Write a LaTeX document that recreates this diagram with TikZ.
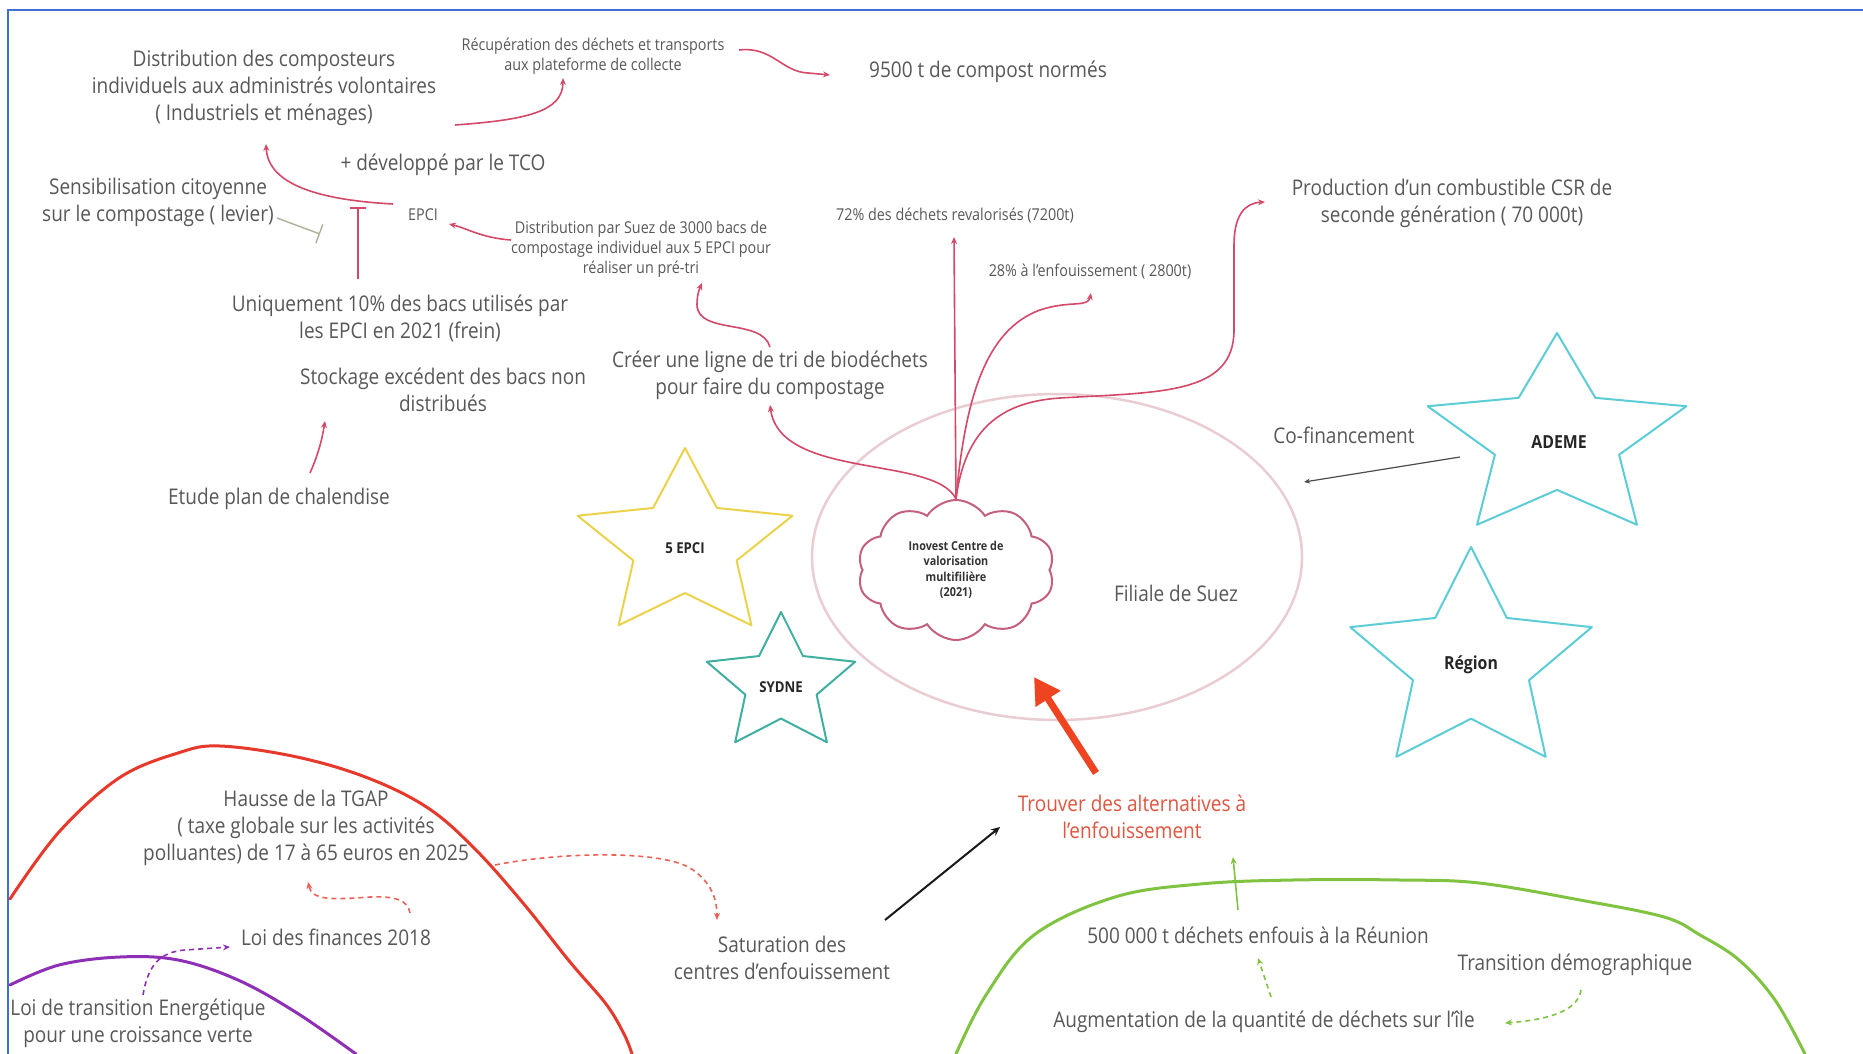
\documentclass[tikz,border=0pt]{standalone}
\usepackage{fontspec}
\setmainfont{Open Sans}[FakeStretch=0.88]
\usetikzlibrary{shapes.geometric,shapes.symbols,arrows.meta,calc}
\definecolor{txtgray}{HTML}{585858}
\definecolor{connpink}{HTML}{D44868}
\definecolor{borderblue}{HTML}{3D6FD4}
\definecolor{suezpink}{HTML}{E9CDD3}
\definecolor{cloudc}{HTML}{C4607E}
\definecolor{ademec}{HTML}{5CCCD6}
\definecolor{sydnec}{HTML}{3FB0A0}
\definecolor{epcic}{HTML}{ECD24A}
\definecolor{redc}{HTML}{E6392B}
\definecolor{purplec}{HTML}{8E2FB5}
\definecolor{greenc}{HTML}{7FC341}
\definecolor{trouverc}{HTML}{E0553F}
\definecolor{bigred}{HTML}{EE4422}
\definecolor{levierc}{HTML}{A8B498}
\newcommand\starpoly[5]{\draw[#1] plot[samples at={0,...,9}, variable=\k] ({#2+#4*(0.74+0.26*cos(180*\k))*cos(90+36*\k)}, {#3-#5*(0.74+0.26*cos(180*\k))*sin(90+36*\k)}) -- cycle;}
\begin{document}
\begin{tikzpicture}[x=1pt,y=-1pt,
  txt/.style={font=\fontsize{21.6}{27}\selectfont, text=txtgray, align=center, inner sep=0pt},
  smalltxt/.style={font=\fontsize{16.3}{20}\selectfont, text=txtgray, align=center, inner sep=0pt},
  starlbl/.style={font=\bfseries\fontsize{18}{20}\selectfont, text=black!85, inner sep=0pt},
  starlbls/.style={font=\bfseries\fontsize{15}{18}\selectfont, text=black!85, inner sep=0pt},
  conn/.style={draw=connpink, line width=1.6pt, -{Stealth[length=7pt,width=6pt]}},
  dconn/.style={line width=1.6pt, dash pattern=on 5pt off 4pt, -{Stealth[length=7pt,width=6pt]}},
  startline/.style={line width=2pt, line join=round},
  bigcurve/.style={line width=3pt, line cap=round}
]
\useasboundingbox (0,0) rectangle (1863,1054);
\fill[white] (0,0) rectangle (1863,1054);
\draw[borderblue, line width=2.5pt] (8,1054) -- (8,10) -- (1863,10);

% big curves
\draw[bigcurve, redc] plot[smooth, tension=0.6] coordinates {(10,899) (59,832) (119,778) (178,753) (220,746) (297,757) (368,778) (428,808) (475,849) (523,903) (570,962) (606,1004) (624,1034) (632,1054)};
\draw[bigcurve, purplec] plot[smooth, tension=0.6] coordinates {(10,985) (59,965) (120,957) (178,960) (238,980) (297,1013) (356,1054)};
\draw[bigcurve, greenc] plot[smooth, tension=0.6] coordinates {(956,1054) (986,995) (1034,935) (1115,897) (1200,884) (1293,880) (1400,880) (1479,883) (1580,900) (1664,917) (1700,935) (1739,960) (1775,1000) (1805,1054)};

% ellipse and cloud
\node[ellipse, draw=suezpink, line width=2.5pt, minimum width=490pt, minimum height=326pt, inner sep=0pt] (suez) at (1057,557) {};
\node[txt] (suezlbl) at (1176,593) {Filiale de Suez};
\node[cloud, cloud puffs=10, cloud puff arc=115, aspect=1.4, draw=cloudc, line width=2pt, minimum width=197pt, minimum height=140pt, inner sep=0pt, align=center, font=\bfseries\fontsize{12.3}{15.5}\selectfont, text=black!80] (cloud) at (956,570) {Inovest Centre de\\valorisation\\multifilière\\(2021)};

% stars
\starpoly{ademec, startline}{1557}{439}{136}{106}
\starpoly{ademec, startline}{1471}{663}{127}{116}
\starpoly{epcic, startline}{685}{546}{113}{98}
\starpoly{sydnec, startline}{781}{684}{78}{72}
\node[starlbl] (ademe) at (1559,442) {ADEME};
\node[starlbl] (region) at (1471,665) {Région};
\node[starlbls] (epci5) at (685,548) {5 EPCI};
\node[starlbls] (sydne) at (781,687) {SYDNE};

% texts
\node[txt] (distc) at (264,88) {Distribution des composteurs\\individuels aux administrés volontaires\\( Industriels et ménages)};
\node[smalltxt] (recup) at (593,56) {Récupération des déchets et transports\\aux plateforme de collecte};
\node[txt] (compost) at (988,72) {9500 t de compost normés};
\node[txt] (tco) at (443,165) {+ développé par le TCO};
\node[txt] (sensib) at (158,202) {Sensibilisation citoyenne\\sur le compostage ( levier)};
\node[smalltxt] (epci) at (423,215) {EPCI};
\node[smalltxt] (distsuez) at (641,249) {Distribution par Suez de 3000 bacs de\\compostage individuel aux 5 EPCI pour\\réaliser un pré-tri};
\node[smalltxt] (p72) at (955,216) {72\% des déchets revalorisés (7200t)};
\node[smalltxt] (p28) at (1090,272) {28\% à l'enfouissement ( 2800t)};
\node[txt] (csr) at (1452,203) {Production d'un combustible CSR de\\seconde génération ( 70 000t)};
\node[txt] (uniq) at (400,318) {Uniquement 10\% des bacs utilisés par\\les EPCI en 2021 (frein)};
\node[txt] (stock) at (443,390) {Stockage excédent des bacs non\\distribués};
\node[txt] (creer) at (770,375) {Créer une ligne de tri de biodéchets\\pour faire du compostage};
\node[txt] (etude) at (279,499) {Etude plan de chalendise};
\node[txt] (cofin) at (1344,435) {Co-financement};
\node[txt, text=trouverc] (trouver) at (1132,817) {Trouver des alternatives à\\l'enfouissement};
\node[txt] (tgap) at (306,828) {Hausse de la TGAP\\( taxe globale sur les activités\\polluantes) de 17 à 65 euros en 2025};
\node[txt] (loifin) at (336,937) {Loi des finances 2018};
\node[txt] (loite) at (138,1023) {Loi de transition Energétique\\pour une croissance verte};
\node[txt] (satur) at (782,958) {Saturation des\\centres d'enfouissement};
\node[txt] (t500) at (1258,935) {500 000 t déchets enfouis à la Réunion};
\node[txt] (transdem) at (1575,965) {Transition démographique};
\node[txt] (augm) at (1264,1022) {Augmentation de la quantité de déchets sur l'île};

\coordinate (bar1) at (358,207);
\coordinate (bar2) at (320,234);

% connectors
\draw[conn] ($(recup)+(146,-6)$) .. controls (772,46) and (782,72) .. (808,73) -- ($(compost)+(-158,3)$);
\draw[conn] ($(distc)+(191,37)$) .. controls (525,120) and (563,112) .. ($(recup)+(-30,22)$);
\draw[conn] ($(epci)+(-30,-11)$) .. controls (320,200) and (268,185) .. ($(distc)+(2,56)$);
\draw[draw=connpink, line width=1.6pt, -{Bar[width=16pt]}] ($(uniq)+(-42,-39)$) -- (bar1);
\draw[draw=levierc, line width=1.4pt, -{Bar[width=20pt]}] ($(sensib)+(119,16)$) -- (bar2);
\draw[conn] ($(distsuez)+(-130,-9)$) .. controls (482,238) and (466,228) .. ($(epci)+(26,9)$);
\draw[conn] ($(creer)+(0,-28)$) .. controls (762,318) and (698,335) .. (697,305) .. controls (697,295) and (699,290) .. ($(distsuez)+(61,34)$);
\draw[conn] (cloud.north) .. controls (935,455) and (780,480) .. ($(creer)+(0,30)$);
\draw[conn] (cloud.north) -- ($(p72)+(-1,21)$);
\draw[conn] (cloud.north) .. controls (965,400) and (985,330) .. (1040,310) .. controls (1070,300) and (1088,308) .. ($(p28)+(1,21)$);
\draw[conn] (cloud.north) .. controls (965,430) and (1000,402) .. (1060,398) .. controls (1160,392) and (1234,395) .. (1234,330) -- (1234,245) .. controls (1234,215) and (1245,203) .. ($(csr)+(-187,-1)$);
\draw[draw=black!70, line width=1.2pt, -{Stealth[length=6pt,width=5pt]}] ($(ademe)+(-99,15)$) -- ($(suez)+(247,-75)$);
\draw[conn] ($(etude)+(31,-26)$) .. controls (318,455) and (322,440) .. ($(stock)+(-118,31)$);
\draw[draw=black!90, line width=2pt, -{Stealth[length=9pt,width=8pt]}] ($(satur)+(103,-38)$) -- ($(trouver)+(-132,10)$);
\draw[dconn, draw=redc!80] ($(tgap)+(189,37)$) .. controls (560,852) and (660,850) .. (690,868) .. controls (712,882) and (717,900) .. ($(satur)+(-65,-38)$);
\draw[dconn, draw=redc!80] ($(loifin)+(74,-24)$) .. controls (408,900) and (395,896) .. (370,897) .. controls (330,900) and (312,900) .. ($(tgap)+(2,54)$);
\draw[dconn, draw=purplec] ($(loite)+(5,-28)$) .. controls (148,965) and (160,952) .. (185,950) -- ($(loifin)+(-106,10)$);
\draw[draw=greenc, line width=1.6pt, -{Stealth[length=7pt,width=6pt]}] ($(t500)+(-20,-25)$) -- ($(trouver)+(101,40)$);
\draw[dconn, draw=greenc] ($(augm)+(7,-25)$) -- ($(t500)+(0,23)$);
\draw[dconn, draw=greenc] ($(transdem)+(6,25)$) .. controls (1578,1012) and (1545,1020) .. ($(augm)+(241,1)$);
\draw[draw=bigred, line width=7pt, -{Triangle[length=26pt,width=28pt]}] ($(trouver)+(-36,-44)$) -- ($(suez)+(-23,120)$);
\end{tikzpicture}
\end{document}
